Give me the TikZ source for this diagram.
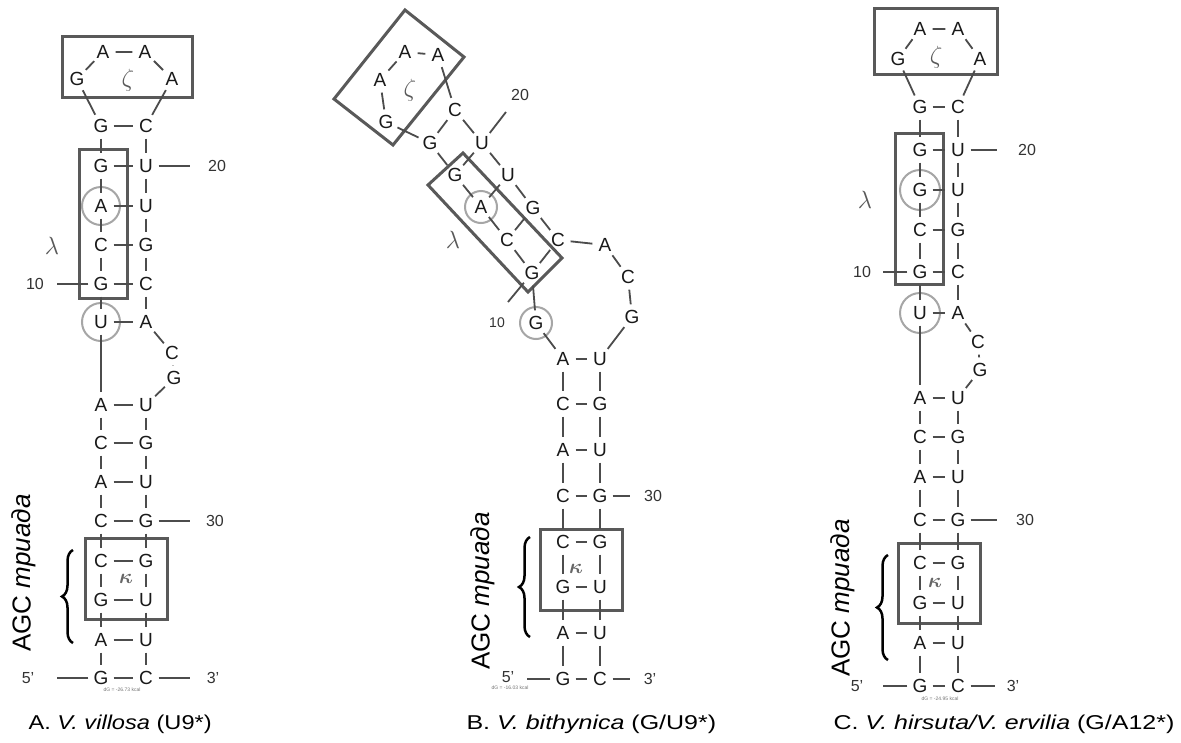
\documentclass[tikz,border=0pt]{standalone}
\usepackage{amsmath}
\usepackage{fontspec}
\setmainfont{Liberation Sans}
\usetikzlibrary{decorations.pathreplacing}
\begin{document}
\begin{tikzpicture}[x=1pt,y=-1pt]
\tikzset{
 nt/.style={circle, minimum size=25pt, inner sep=0pt, font=\fontsize{19}{19}\selectfont, text=black!90},
 bond/.style={draw=black!70, line width=1.8pt},
 frame/.style={draw=black!65, line width=3pt},
 hl/.style={draw=black!35, line width=2pt},
 num/.style={font=\fontsize{16}{16}\selectfont, text=black!80},
 greek/.style={font=\fontsize{26}{26}\selectfont, text=black!65},
 kap/.style={font=\fontsize{22}{22}\selectfont, text=black!60},
 brc/.style={draw=black, line width=2.5pt, decorate, decoration={brace, amplitude=11pt}},
 triad/.style={rotate=90, font=\fontsize{26}{26}\selectfont, text=black},
 tiny/.style={font=\fontsize{5}{5}\selectfont, text=black!55},
 capt/.style={anchor=base west, font=\fontsize{20}{20}\selectfont, text=black},
}
\useasboundingbox (0,0) rectangle (1181,742);
\fill[white] (0,0) rectangle (1181,742);

% ================= Panel A =================
\draw[frame] (62,36) rectangle (192,97);
\draw[frame] (79,149) rectangle (127,298);
\draw[frame] (85,538) rectangle (167,619);
\draw[hl] (101,206) circle (19);
\draw[hl] (101,322) circle (19);
\node[nt] (aG1) at (77,79) {G};
\node[nt] (aA1) at (103,52) {A};
\node[nt] (aA2) at (145,52) {A};
\node[nt] (aA3) at (172,79) {A};
\node[greek] (aZ) at (128,80) {$\zeta$};
\foreach \i/\y/\l/\r in {1/126/G/C,2/166/G/U,3/206/A/U,4/245/C/G,5/284/G/C,6/322/U/A,
  7/405/A/U,8/443/C/G,9/482/A/U,10/521/C/G,11/561/C/G,12/600/G/U,13/640/A/U,14/678/G/C}{
  \node[nt] (aL\i) at (101,\y) {\l};
  \node[nt] (aR\i) at (146,\y) {\r};
  \draw[bond] (aL\i) -- (aR\i);
}
\node[nt] (aBC) at (172,353) {C};
\node[nt] (aBG) at (174,378) {G};
\foreach \i [count=\j from 2] in {1,...,13}{\draw[bond] (aL\i) -- (aL\j);}
\foreach \i/\j in {1/2,2/3,3/4,4/5,5/6,7/8,8/9,9/10,10/11,11/12,12/13,13/14}{\draw[bond] (aR\i) -- (aR\j);}
\draw[bond] (aR6) -- (aBC) -- (aBG) -- (aR7);
\draw[bond] (aL1) -- (aG1) -- (aA1) -- (aA2) -- (aA3) -- (aR1);
\coordinate (a20) at (190,166);
\coordinate (a10) at (57,284);
\coordinate (a30) at (190,521);
\coordinate (a5) at (57,678);
\coordinate (a3) at (190,678);
\draw[bond] (aR2) -- (a20);
\draw[bond] (aL5) -- (a10);
\draw[bond] (aR10) -- (a30);
\draw[bond] (aL14) -- (a5);
\draw[bond] (aR14) -- (a3);
\node[num] (aN20) at (217,166) {20};
\node[num] (aN10) at (35,284) {10};
\node[num] (aN30) at (215,521) {30};
\node[num] (aN5) at (28,678) {5'};
\node[num] (aN3) at (213,678) {3'};
\node[greek] (aLam) at (52,246) {$\lambda$};
\node[kap] (aKap) at (126,579) {$\boldsymbol{\kappa}$};
\draw[brc] (73,643) -- (73,550);
\node[triad] (aT) at (24,573) {AGC \textit{триада}};
\node[tiny] (aDG) at (122,690) {dG = -26.73 kcal};

% ================= Panel B =================
\draw[frame] (405,10) -- (464,57) -- (393,145) -- (334,99) -- cycle;
\draw[frame] (463,153) -- (562,258) -- (528,292) -- (428,185) -- cycle;
\draw[frame] (540,529) rectangle (622,610);
\draw[hl] (481,207) circle (16);
\draw[hl] (536,323) circle (16);
\node[nt] (bG0) at (386,122) {G};
\node[nt] (bA1) at (380,80) {A};
\node[nt] (bA2) at (405,52) {A};
\node[nt] (bA3) at (438,55) {A};
\node[greek] (bZ) at (410,90) {$\zeta$};
\node[nt] (bL1) at (430,143) {G};
\node[nt] (bR1) at (455,110) {C};
\node[nt] (bL2) at (455,175) {G};
\node[nt] (bR2) at (482,143) {U};
\node[nt] (bL3) at (481,207) {A};
\node[nt] (bR3) at (508,175) {U};
\node[nt] (bL4) at (507,240) {C};
\node[nt] (bR4) at (533,208) {G};
\node[nt] (bL5) at (532,273) {G};
\node[nt] (bR5) at (558,240) {C};
\node[nt] (bL6) at (536,323) {G};
\node[nt] (bBA) at (605,245) {A};
\node[nt] (bBC) at (628,277) {C};
\node[nt] (bBG) at (632,317) {G};
\foreach \i in {1,...,5}{\draw[bond] (bL\i) -- (bR\i);}
\foreach \i/\y/\l/\r in {7/359/A/U,8/404/C/G,9/450/A/U,10/496/C/G,11/542/C/G,12/587/G/U,13/633/A/U,14/679/G/C}{
  \node[nt] (bL\i) at (563,\y) {\l};
  \node[nt] (bR\i) at (600,\y) {\r};
  \draw[bond] (bL\i) -- (bR\i);
}
\foreach \i [count=\j from 2] in {1,...,13}{\draw[bond] (bL\i) -- (bL\j);}
\foreach \i/\j in {1/2,2/3,3/4,4/5,7/8,8/9,9/10,10/11,11/12,12/13,13/14}{\draw[bond] (bR\i) -- (bR\j);}
\draw[bond] (bR5) -- (bBA) -- (bBC) -- (bBG) -- (bR7);
\draw[bond] (bL1) -- (bG0) -- (bA1) -- (bA2) -- (bA3) -- (bR1);
\coordinate (b20) at (506,112);
\coordinate (b10) at (508,302);
\coordinate (b30) at (630,496);
\coordinate (b5) at (527,679);
\coordinate (b3) at (630,679);
\draw[bond] (bR2) -- (b20);
\draw[bond] (bL5) -- (b10);
\draw[bond] (bR10) -- (b30);
\draw[bond] (bL14) -- (b5);
\draw[bond] (bR14) -- (b3);
\node[num] (bN20) at (520,95) {20};
\node[num, font=\fontsize{14}{14}\selectfont] (bN10) at (497,323) {10};
\node[num] (bN30) at (653,496) {30};
\node[num] (bN5) at (508,677) {5'};
\node[num] (bN3) at (650,679) {3'};
\node[greek] (bLam) at (453,240) {$\lambda$};
\node[kap] (bKap) at (576,569) {$\boldsymbol{\kappa}$};
\draw[brc] (530,637) -- (530,537);
\node[triad] (bT) at (483,591) {AGC \textit{триада}};
\node[tiny] (bDG) at (510,688) {dG = -16.03 kcal};

% ================= Panel C =================
\draw[frame] (874,8) rectangle (997,74);
\draw[frame] (895,133) rectangle (943,284);
\draw[frame] (898,543) rectangle (980,623);
\draw[hl] (920,190) circle (20);
\draw[hl] (920,313) circle (20);
\node[nt] (cG1) at (898,59) {G};
\node[nt] (cA1) at (920,29) {A};
\node[nt] (cA2) at (958,29) {A};
\node[nt] (cA3) at (980,59) {A};
\node[greek] (cZ) at (936,57) {$\zeta$};
\foreach \i/\y/\l/\r in {1/107/G/C,2/150/G/U,3/190/G/U,4/230/C/G,5/272/G/C,6/313/U/A,
  7/398/A/U,8/437/C/G,9/477/A/U,10/520/C/G,11/563/C/G,12/603/G/U,13/643/A/U,14/686/G/C}{
  \node[nt] (cL\i) at (920,\y) {\l};
  \node[nt] (cR\i) at (958,\y) {\r};
  \draw[bond] (cL\i) -- (cR\i);
}
\node[nt] (cBC) at (978,342) {C};
\node[nt] (cBG) at (980,370) {G};
\foreach \i [count=\j from 2] in {1,...,13}{\draw[bond] (cL\i) -- (cL\j);}
\foreach \i/\j in {1/2,2/3,3/4,4/5,5/6,7/8,8/9,9/10,10/11,11/12,12/13,13/14}{\draw[bond] (cR\i) -- (cR\j);}
\draw[bond] (cR6) -- (cBC) -- (cBG) -- (cR7);
\draw[bond] (cL1) -- (cG1) -- (cA1) -- (cA2) -- (cA3) -- (cR1);
\coordinate (c20) at (997,150);
\coordinate (c10) at (883,272);
\coordinate (c30) at (997,520);
\coordinate (c5) at (883,686);
\coordinate (c3) at (995,686);
\draw[bond] (cR2) -- (c20);
\draw[bond] (cL5) -- (c10);
\draw[bond] (cR10) -- (c30);
\draw[bond] (cL14) -- (c5);
\draw[bond] (cR14) -- (c3);
\node[num] (cN20) at (1027,150) {20};
\node[num] (cN10) at (862,272) {10};
\node[num] (cN30) at (1025,520) {30};
\node[num] (cN5) at (857,686) {5'};
\node[num] (cN3) at (1013,686) {3'};
\node[greek] (cLam) at (865,200) {$\lambda$};
\node[kap] (cKap) at (935,583) {$\boldsymbol{\kappa}$};
\draw[brc] (888,660) -- (888,555);
\node[triad] (cT) at (843,598) {AGC \textit{триада}};
\node[tiny] (cDG) at (940,699) {dG = -24.95 kcal};

% ================= Captions =================
\node[capt] (capA) at (25,729) {\scalebox{1.18}[1]{A. \textit{V. villosa} (U9*)}};
\node[capt] (capB) at (463,729) {\scalebox{1.25}[1]{B. \textit{V. bithynica} (G/U9*)}};
\node[capt] (capC) at (830,729) {\scalebox{1.25}[1]{C. \textit{V. hirsuta/V. ervilia} (G/A12*)}};
\end{tikzpicture}
\end{document}
